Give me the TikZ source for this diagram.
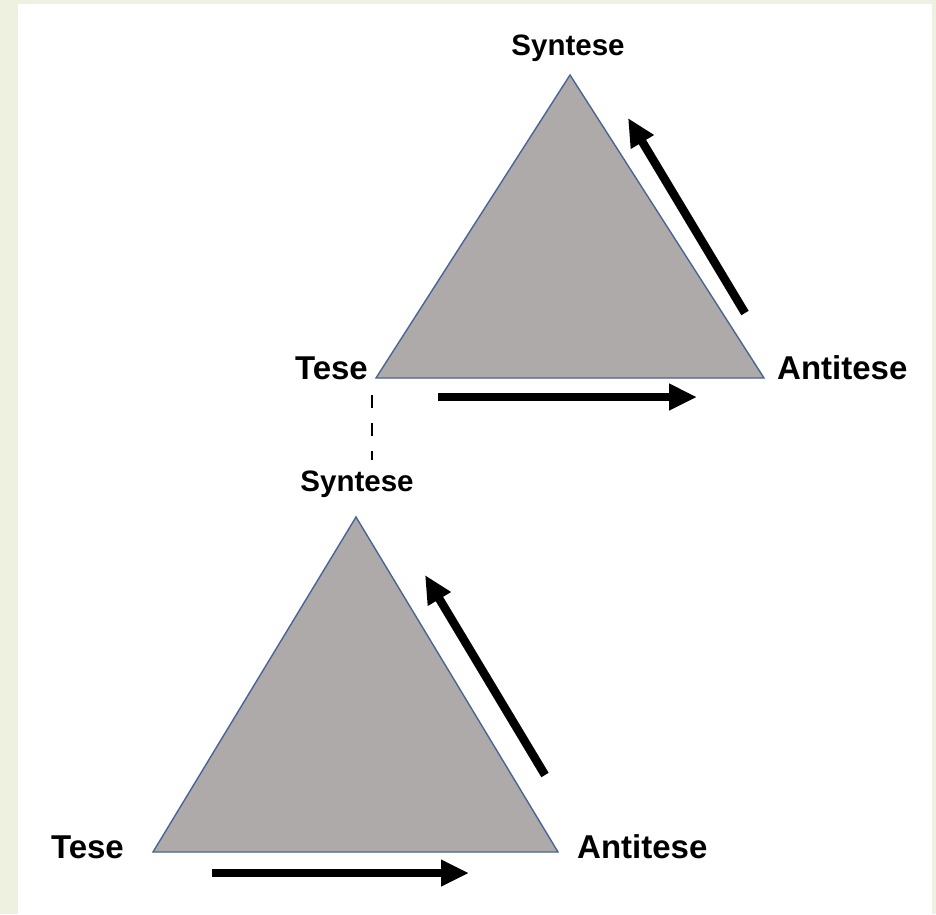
\documentclass[tikz,border=0pt]{standalone}
\usepackage{fontspec}
\setmainfont{Liberation Sans}
\usetikzlibrary{arrows.meta}
\definecolor{pagebeige}{HTML}{EEF0E0}
\definecolor{trifill}{HTML}{AEAAAA}
\definecolor{triline}{HTML}{4A6494}
\begin{document}
\begin{tikzpicture}[x=1pt,y=-1pt]
\tikzstyle{every node}+=[inner sep=0pt]
\tikzstyle{tri}=[fill=trifill,draw=triline,line width=1.4pt,line join=miter]
\tikzstyle{bigarrow}=[line width=8.5pt,-{Triangle[length=28pt,width=25pt]}]
\tikzstyle{lab}=[font=\bfseries\fontsize{33}{37}\selectfont]
\tikzstyle{labtop}=[font=\bfseries\fontsize{29.5}{33}\selectfont]
\useasboundingbox (0,0) rectangle (936,914);
\fill [pagebeige] (0,0) rectangle (936,914);
\fill [white] (18,4) rectangle (932,914);
% upper triangle
\coordinate (s1) at (570,75);
\coordinate (t1) at (376,378);
\coordinate (a1) at (764,378);
\draw [tri] (s1) -- (t1) -- (a1) -- cycle;
\node [labtop,anchor=base] (syn1) at (568,55) {Syntese};
\node [lab,anchor=base east] (tes1) at (368,379) {Tese};
\node [lab,anchor=base west] (ant1) at (777,379) {Antitese};
\coordinate (h1a) at (438,397);
\coordinate (h1b) at (697,397);
\draw [bigarrow] (h1a) -- (h1b);
\coordinate (d1a) at (745,313);
\coordinate (d1b) at (628,118);
\draw [bigarrow] (d1a) -- (d1b);
% lower triangle
\coordinate (s2) at (356,517);
\coordinate (t2) at (153,852);
\coordinate (a2) at (558,852);
\draw [tri] (s2) -- (t2) -- (a2) -- cycle;
\node [labtop,anchor=base] (syn2) at (357,491) {Syntese};
\node [lab,anchor=base east] (tes2) at (124,858) {Tese};
\node [lab,anchor=base west] (ant2) at (577,858) {Antitese};
\coordinate (h2a) at (212,873);
\coordinate (h2b) at (469,873);
\draw [bigarrow] (h2a) -- (h2b);
\coordinate (d2a) at (545,775);
\coordinate (d2b) at (425,575);
\draw [bigarrow] (d2a) -- (d2b);
% link
\coordinate (k1) at (372,395);
\coordinate (k2) at (372,460);
\draw [line width=2pt,dash pattern=on 13pt off 15pt] (k1) -- (k2);
\end{tikzpicture}
\end{document}
